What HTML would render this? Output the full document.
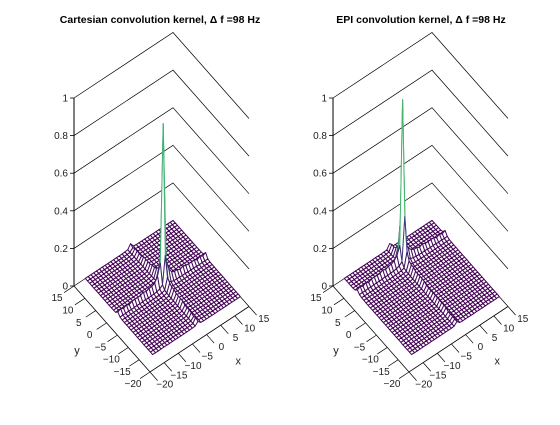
<!DOCTYPE html>
<html><head><meta charset="utf-8"><style>
html,body{margin:0;padding:0;background:#fff;}
svg text{font-family:"Liberation Sans",sans-serif;}
</style></head><body>
<svg id="fig" width="560" height="420" viewBox="0 0 560 420" xmlns="http://www.w3.org/2000/svg">
<rect width="560" height="420" fill="#fff"/>
<text x="160" y="23" font-size="10.5" font-weight="bold" text-anchor="middle">Cartesian convolution kernel, Δ f =98 Hz</text>
<text x="421" y="23" font-size="10.5" font-weight="bold" text-anchor="middle">EPI convolution kernel, Δ f =98 Hz</text>
<g id="p0"></g>
<g id="p1"></g>
</svg>
<script>
// grid coordinates -16..15
const gridVals = [-16,-15,-14,-13,-12,-11,-10,-9,-8,-7,-6,-5,-4,-3,-2,-1,0,1,2,3,4,5,6,7,8,9,10,11,12,13,14,15];
const zTicks = [0,0.2,0.4,0.6,0.8,1];
const zTickLabels = ["0","0.2","0.4","0.6","0.8","1"];
const xyTicks = [-20,-15,-10,-5,0,5,10,15];
const xyTickLabels = ["\u221220","\u221215","\u221210","\u22125","0","5","10","15"];
// Cartesian kernel separable profiles (relative), peak amplitude
const cartPeak = 0.86;
const cartProfX = [0.02,0.03,0.02,0.03,0.02,0.03,0.03,0.03,0.03,0.04,0.03,0.04,0.04,0.05,0.08,0.15,1,0.15,0.08,0.05,0.04,0.04,0.03,0.04,0.03,0.03,0.03,0.03,0.02,0.03,0.02,0.03];
const cartProfY = [0.02,0.03,0.02,0.03,0.03,0.03,0.03,0.04,0.04,0.04,0.04,0.05,0.05,0.06,0.08,0.2,1,0.2,0.08,0.06,0.05,0.05,0.04,0.04,0.04,0.04,0.03,0.03,0.03,0.03,0.02,0.03];
// EPI kernel: peak shifted in y
const epiPeak = 0.87;
const epiProfX = [0.02,0.03,0.02,0.03,0.02,0.03,0.03,0.03,0.03,0.04,0.03,0.04,0.04,0.05,0.07,0.12,1,0.12,0.07,0.05,0.04,0.04,0.03,0.04,0.03,0.03,0.03,0.03,0.02,0.03,0.02,0.03];
const epiProfY = [0.02,0.02,0.02,0.02,0.02,0.03,0.03,0.03,0.03,0.03,0.03,0.03,0.03,0.03,0.03,0.04,0.04,0.04,0.04,0.04,0.05,0.05,0.06,0.1,0.3,1,0.25,0.08,0.05,0.04,0.04,0.03];

const NS="http://www.w3.org/2000/svg";
const VIR=[[68,1,84],[59,82,139],[33,145,140],[94,201,98],[253,231,37]];
function vir(t){t=Math.max(0,Math.min(1,t));const s=t*4,i=Math.min(3,Math.floor(s)),f=s-i;
 const a=VIR[i],b=VIR[i+1];return `rgb(${Math.round(a[0]+(b[0]-a[0])*f)},${Math.round(a[1]+(b[1]-a[1])*f)},${Math.round(a[2]+(b[2]-a[2])*f)})`;}
function mk(tag,attrs,parent){const e=document.createElementNS(NS,tag);for(const k in attrs)e.setAttribute(k,attrs[k]);parent.appendChild(e);return e;}

function drawPlot(g,ox,peak,px,py,pname){
 const P=(x,y,z)=>[ox+150+(x+20)*2.829-(y+20)*2.171, 372-(x+20)*1.871-(y+20)*2.457-z*188];
 const pt=a=>a[0].toFixed(1)+","+a[1].toFixed(1);
 zTicks.forEach((z,k)=>{
  const a=P(-20,15,z),b=P(15,15,z),c=P(15,-20,z);
  const l=mk('polyline',{points:pt(a)+" "+pt(b)+" "+pt(c),fill:"none",stroke:"#000","stroke-width":0.7},g);
  
  
  const tk=mk('line',{x1:a[0]-4,y1:a[1],x2:a[0],y2:a[1],stroke:"#000","stroke-width":0.8},g);
  
  
  const t=mk('text',{x:a[0]-6,y:a[1]+3.5,"font-size":10,"text-anchor":"end",fill:"#222"},g);
  t.textContent=zTickLabels[k];
  
  
 });
 const za=P(-20,15,0),zb=P(-20,15,1);
 const zl=mk('line',{x1:za[0],y1:za[1],x2:zb[0],y2:zb[1],stroke:"#000","stroke-width":1},g);
 
 
 const c1=P(-20,15,0),c2=P(-20,-20,0),c3=P(15,-20,0);
 const fe=mk('polyline',{points:pt(c1)+" "+pt(c2)+" "+pt(c3),fill:"none",stroke:"#000","stroke-width":0.8},g);
 
 
 xyTicks.forEach((v,k)=>{
  const a=P(-20,v,0),b=P(-23.5,v,0),lb=P(-26,v,0);
  const t1=mk('line',{x1:a[0],y1:a[1],x2:b[0],y2:b[1],stroke:"#000","stroke-width":0.7},g);
  
  
  const tl=mk('text',{x:lb[0],y:lb[1]+4,"font-size":10,"text-anchor":"middle",fill:"#222"},g);
  tl.textContent=xyTickLabels[k];
  
  
  const c=P(v,-20,0),d=P(v,-23.5,0),lc=P(v+1,-25.5,0);
  const t2=mk('line',{x1:c[0],y1:c[1],x2:d[0],y2:d[1],stroke:"#000","stroke-width":0.7},g);
  
  
  const xl=mk('text',{x:lc[0],y:lc[1]+4,"font-size":10,"text-anchor":"middle",fill:"#222"},g);
  xl.textContent=xyTickLabels[k];
  
  
 });
 const ya=P(-32,-2,0),xa=P(2,-32,0);
 const yt=mk('text',{x:ya[0],y:ya[1]+4,"font-size":11,"text-anchor":"middle",fill:"#222"},g);
 yt.textContent="y";
 
 
 const xt=mk('text',{x:xa[0],y:xa[1]+4,"font-size":11,"text-anchor":"middle",fill:"#222"},g);
 xt.textContent="x";
 
 
 const n=gridVals.length;
 const Z=(i,j)=>peak*px[i]*py[j];
 const quads=[];
 for(let i=0;i<n-1;i++)for(let j=0;j<n-1;j++)quads.push([i,j]);
 quads.sort((a,b)=>(b[0]+b[1])-(a[0]+a[1]));
 const mg=mk('g',{},g);
 
 
 quads.forEach(([i,j])=>{
  const zs=[Z(i,j),Z(i+1,j),Z(i+1,j+1),Z(i,j+1)];
  const pts=[P(gridVals[i],gridVals[j],zs[0]),P(gridVals[i+1],gridVals[j],zs[1]),P(gridVals[i+1],gridVals[j+1],zs[2]),P(gridVals[i],gridVals[j+1],zs[3])];
  const zm=(zs[0]+zs[1]+zs[2]+zs[3])/4+Math.max(...zs)*0.4;
  const q=mk('polygon',{points:pts.map(pt).join(" "),fill:"#fff",stroke:vir(zm),"stroke-width":1,"stroke-linejoin":"round"},mg);
  
  
 });
}
drawPlot(document.getElementById('p0'),0,cartPeak,cartProfX,cartProfY,'cartesian');
drawPlot(document.getElementById('p1'),259,epiPeak,epiProfX,epiProfY,'epi');
</script>
</body></html>
